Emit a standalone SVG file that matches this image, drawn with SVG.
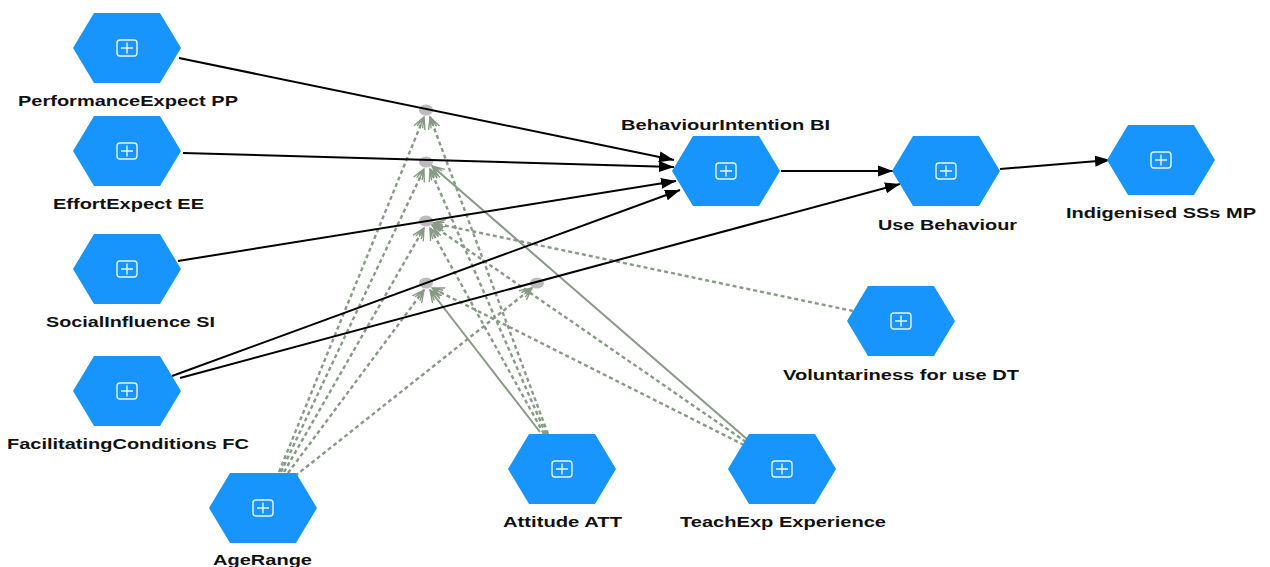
<svg xmlns="http://www.w3.org/2000/svg" xmlns:xlink="http://www.w3.org/1999/xlink" width="1270" height="567" viewBox="0 0 1270 567">
<style>
.hex{fill:#1795fd;}
.ico{fill:none;stroke:#ffffff;stroke-width:1.4;opacity:0.9;}
.lbl{font-family:"Liberation Sans",Arial,sans-serif;font-weight:bold;font-size:15px;fill:#111111;text-anchor:middle;}
.main{stroke:#000;stroke-width:2;fill:none;marker-end:url(#ah);}
.mod{stroke:#879a84;stroke-width:2.4;fill:none;stroke-dasharray:4 3;marker-end:url(#fan);}
.mods{stroke:#879a84;stroke-width:2;fill:none;marker-end:url(#fan);}
.dot{fill:#b5b5b5;opacity:0.9;}
</style>
<defs>
<marker id="ah" markerUnits="userSpaceOnUse" markerWidth="16" markerHeight="12" refX="15" refY="6" orient="auto">
<path d="M0,0.5 L15,6 L0,11.5 Z" fill="#000"/>
</marker>
<marker id="fan" markerUnits="userSpaceOnUse" markerWidth="14" markerHeight="14" refX="12" refY="7" orient="auto">
<path d="M0,1 L12,7 L0,13 M2,7 L12,7 M1,4 L12,7 M1,10 L12,7" fill="none" stroke="#879a84" stroke-width="1.4"/>
</marker>
<g id="hx">
<path class="hex" d="M-54,0 L-33,-35 L33,-35 L54,0 L33,35 L-33,35 Z"/>
<rect class="ico" x="-10" y="-8" width="20" height="16" rx="3"/>
<path class="ico" d="M-6,0 H6 M0,-5.5 V5.5"/>
</g>
</defs>
<rect width="1270" height="567" fill="#ffffff"/>
<g id="connectors">
<line class="mod" x1="279" y1="472" x2="424" y2="117"/>
<line class="mod" x1="281" y1="472" x2="424" y2="169"/>
<line class="mod" x1="284" y1="472" x2="424" y2="228"/>
<line class="mod" x1="288" y1="473" x2="424" y2="290"/>
<line class="mod" x1="295" y1="476" x2="532" y2="288"/>
<line class="mod" x1="548" y1="434" x2="430" y2="117"/>
<line class="mod" x1="546" y1="434" x2="430" y2="169"/>
<line class="mod" x1="544" y1="434" x2="430" y2="228"/>
<line class="mods" x1="540" y1="432" x2="430" y2="290"/>
<line class="mods" x1="748" y1="440" x2="432" y2="166"/>
<line class="mod" x1="746" y1="442" x2="432" y2="225"/>
<line class="mod" x1="744" y1="445" x2="432" y2="288"/>
<line class="mod" x1="853" y1="311" x2="433" y2="223"/>
<ellipse class="dot" cx="426" cy="110" rx="7" ry="5.5"/>
<ellipse class="dot" cx="426" cy="162" rx="7" ry="5.5"/>
<ellipse class="dot" cx="426" cy="221" rx="7" ry="5.5"/>
<ellipse class="dot" cx="426" cy="283" rx="7" ry="5.5"/>
<ellipse class="dot" cx="537" cy="283" rx="7" ry="5.5"/>
<line class="main" x1="179" y1="58" x2="674" y2="160"/>
<line class="main" x1="183" y1="153" x2="674" y2="167"/>
<line class="main" x1="178" y1="261" x2="676" y2="181"/>
<line class="main" x1="172" y1="376" x2="680" y2="190"/>
<line class="main" x1="180" y1="378" x2="900" y2="184"/>
<line class="main" x1="781" y1="171" x2="893" y2="171"/>
<line class="main" x1="1000" y1="169" x2="1110" y2="160"/>
</g>
<g id="node-pp"><use xlink:href="#hx" x="127" y="48"/><text class="lbl" x="128" y="106" textLength="220" lengthAdjust="spacingAndGlyphs">PerformanceExpect PP</text></g>
<g id="node-ee"><use xlink:href="#hx" x="127" y="151"/><text class="lbl" x="128.5" y="209" textLength="151" lengthAdjust="spacingAndGlyphs">EffortExpect EE</text></g>
<g id="node-si"><use xlink:href="#hx" x="127" y="269"/><text class="lbl" x="130.5" y="327" textLength="169" lengthAdjust="spacingAndGlyphs">SocialInfluence SI</text></g>
<g id="node-fc"><use xlink:href="#hx" x="127" y="391"/><text class="lbl" x="128" y="449" textLength="242" lengthAdjust="spacingAndGlyphs">FacilitatingConditions FC</text></g>
<g id="node-age"><use xlink:href="#hx" x="263" y="508"/><text class="lbl" x="262.5" y="565" textLength="99" lengthAdjust="spacingAndGlyphs">AgeRange</text></g>
<g id="node-att"><use xlink:href="#hx" x="562" y="469"/><text class="lbl" x="562.5" y="527" textLength="119" lengthAdjust="spacingAndGlyphs">Attitude ATT</text></g>
<g id="node-te"><use xlink:href="#hx" x="782" y="469"/><text class="lbl" x="783" y="527" textLength="206" lengthAdjust="spacingAndGlyphs">TeachExp Experience</text></g>
<g id="node-bi"><use xlink:href="#hx" x="726" y="171"/><text class="lbl" x="725.5" y="130" textLength="209" lengthAdjust="spacingAndGlyphs">BehaviourIntention BI</text></g>
<g id="node-ub"><use xlink:href="#hx" x="946" y="171"/><text class="lbl" x="947.5" y="230" textLength="139" lengthAdjust="spacingAndGlyphs">Use Behaviour</text></g>
<g id="node-dt"><use xlink:href="#hx" x="901" y="321"/><text class="lbl" x="901" y="380" textLength="236" lengthAdjust="spacingAndGlyphs">Voluntariness for use DT</text></g>
<g id="node-mp"><use xlink:href="#hx" x="1161" y="160"/><text class="lbl" x="1161" y="218" textLength="190" lengthAdjust="spacingAndGlyphs">Indigenised SSs MP</text></g>
</svg>
